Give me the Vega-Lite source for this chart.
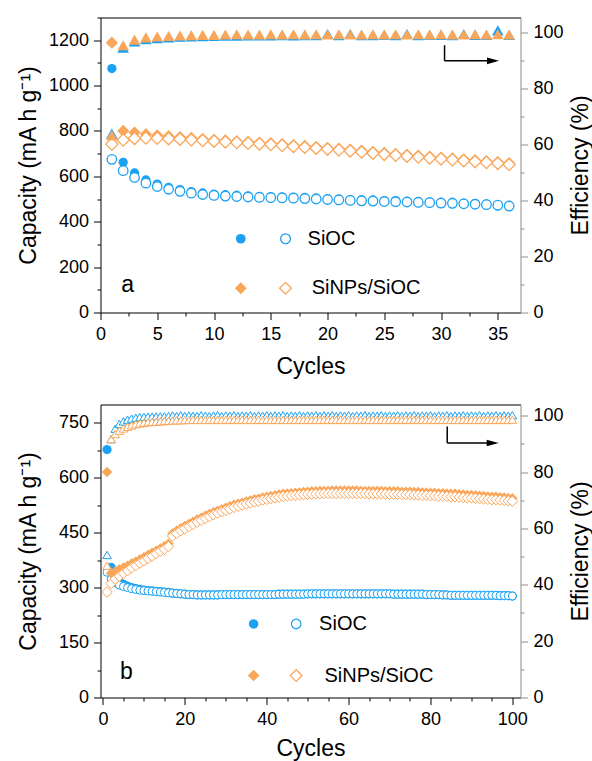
{
  "$schema": "https://vega.github.io/schema/vega-lite/v6.json",
  "padding": {"left": 17.5, "top": 16.5, "right": 0, "bottom": 0},
  "datasets": {
    "a": [
      {"c":1,"sD":1075,"sC":675,"nD":1189,"nC":742,"sE":63.9,"nE":63.3},
      {"c":2,"sD":662,"sC":625,"nD":800,"nC":760,"sE":94.6,"nE":95.5},
      {"c":3,"sD":615,"sC":595,"nD":793,"nC":767,"sE":96.8,"nE":97.5},
      {"c":4,"sD":584,"sC":570,"nD":786,"nC":769,"sE":97.6,"nE":98.3},
      {"c":5,"sD":566,"sC":555,"nD":781,"nC":768,"sE":98.0,"nE":98.6},
      {"c":6,"sD":552,"sC":543,"nD":777,"nC":766,"sE":98.3,"nE":98.8},
      {"c":7,"sD":542,"sC":534,"nD":773,"nC":764,"sE":98.5,"nE":99.0},
      {"c":8,"sD":533,"sC":526,"nD":769,"nC":761,"sE":98.6,"nE":99.1},
      {"c":9,"sD":527,"sC":520,"nD":765,"nC":758,"sE":98.7,"nE":99.2},
      {"c":10,"sD":522,"sC":516,"nD":761,"nC":755,"sE":98.8,"nE":99.2},
      {"c":11,"sD":519,"sC":513,"nD":758,"nC":752,"sE":98.9,"nE":99.3},
      {"c":12,"sD":517,"sC":511,"nD":755,"nC":749,"sE":98.9,"nE":99.4},
      {"c":13,"sD":514,"sC":509,"nD":752,"nC":746,"sE":99.0,"nE":99.3},
      {"c":14,"sD":512,"sC":507,"nD":749,"nC":743,"sE":99.0,"nE":99.3},
      {"c":15,"sD":511,"sC":506,"nD":746,"nC":740,"sE":99.0,"nE":99.4},
      {"c":16,"sD":510,"sC":505,"nD":742,"nC":736,"sE":99.1,"nE":99.3},
      {"c":17,"sD":509,"sC":504,"nD":738,"nC":732,"sE":99.0,"nE":99.4},
      {"c":18,"sD":507,"sC":502,"nD":734,"nC":728,"sE":99.1,"nE":99.3},
      {"c":19,"sD":505,"sC":500,"nD":730,"nC":724,"sE":99.1,"nE":99.4},
      {"c":20,"sD":501,"sC":498,"nD":726,"nC":720,"sE":99.5,"nE":99.3},
      {"c":21,"sD":501,"sC":496,"nD":722,"nC":716,"sE":99.1,"nE":99.4},
      {"c":22,"sD":497,"sC":494,"nD":718,"nC":712,"sE":99.5,"nE":99.3},
      {"c":23,"sD":497,"sC":492,"nD":713,"nC":707,"sE":99.1,"nE":99.3},
      {"c":24,"sD":496,"sC":491,"nD":708,"nC":702,"sE":99.1,"nE":99.4},
      {"c":25,"sD":493,"sC":489,"nD":703,"nC":697,"sE":99.2,"nE":99.3},
      {"c":26,"sD":493,"sC":488,"nD":699,"nC":693,"sE":99.1,"nE":99.4},
      {"c":27,"sD":490,"sC":487,"nD":695,"nC":689,"sE":99.5,"nE":99.3},
      {"c":28,"sD":490,"sC":485,"nD":691,"nC":685,"sE":99.1,"nE":99.4},
      {"c":29,"sD":488,"sC":484,"nD":687,"nC":681,"sE":99.2,"nE":99.3},
      {"c":30,"sD":486,"sC":482,"nD":683,"nC":677,"sE":99.2,"nE":99.4},
      {"c":31,"sD":486,"sC":481,"nD":679,"nC":673,"sE":99.1,"nE":99.3},
      {"c":32,"sD":482,"sC":479,"nD":675,"nC":669,"sE":99.5,"nE":99.3},
      {"c":33,"sD":481,"sC":477,"nD":671,"nC":665,"sE":99.2,"nE":99.4},
      {"c":34,"sD":479,"sC":475,"nD":667,"nC":661,"sE":99.2,"nE":99.3},
      {"c":35,"sD":469,"sC":473,"nD":663,"nC":657,"sE":100.8,"nE":99.4},
      {"c":36,"sD":473,"sC":469,"nD":658,"nC":652,"sE":99.2,"nE":99.3}
    ],
    "b": [
      {"c":1,"sD":677,"sC":342,"nD":616,"nC":288,"sE":50.6,"nE":46.8},
      {"c":2,"sD":355,"sC":323,"nD":339,"nC":311,"sE":91.7,"nE":91.7},
      {"c":3,"sD":328,"sC":313,"nD":345,"nC":323,"sE":95.4,"nE":93.5},
      {"c":4,"sD":316,"sC":307,"nD":350,"nC":331,"sE":97.1,"nE":94.7},
      {"c":5,"sD":309,"sC":303,"nD":355,"nC":339,"sE":98.0,"nE":95.5},
      {"c":6,"sD":304,"sC":300,"nD":360,"nC":346,"sE":98.6,"nE":96.1},
      {"c":7,"sD":300,"sC":297,"nD":366,"nC":354,"sE":99.0,"nE":96.6},
      {"c":8,"sD":297,"sC":295,"nD":371,"nC":360,"sE":99.3,"nE":97.0},
      {"c":9,"sD":295,"sC":293,"nD":377,"nC":367,"sE":99.5,"nE":97.3},
      {"c":10,"sD":293,"sC":292,"nD":383,"nC":373,"sE":99.6,"nE":97.5},
      {"c":11,"sD":292,"sC":291,"nD":389,"nC":380,"sE":99.7,"nE":97.7},
      {"c":12,"sD":291,"sC":290,"nD":395,"nC":386,"sE":99.7,"nE":97.8},
      {"c":13,"sD":290,"sC":289,"nD":401,"nC":393,"sE":99.8,"nE":97.9},
      {"c":14,"sD":289,"sC":288,"nD":407,"nC":399,"sE":99.8,"nE":98.0},
      {"c":15,"sD":288,"sC":287,"nD":413,"nC":405,"sE":99.8,"nE":98.1},
      {"c":16,"sD":287,"sC":286,"nD":420,"nC":412,"sE":99.9,"nE":98.2},
      {"c":17,"sD":285,"sC":285,"nD":448,"nC":441,"sE":100.1,"nE":98.3},
      {"c":18,"sD":284,"sC":284,"nD":455,"nC":448,"sE":99.9,"nE":98.4},
      {"c":19,"sD":283,"sC":283,"nD":462,"nC":455,"sE":100.2,"nE":98.4},
      {"c":20,"sD":282,"sC":282,"nD":468,"nC":461,"sE":99.9,"nE":98.5},
      {"c":21,"sD":281,"sC":281,"nD":474,"nC":467,"sE":100.1,"nE":98.5},
      {"c":22,"sD":281,"sC":281,"nD":480,"nC":473,"sE":100.0,"nE":98.6},
      {"c":23,"sD":280,"sC":280,"nD":486,"nC":479,"sE":99.9,"nE":98.5},
      {"c":24,"sD":280,"sC":280,"nD":491,"nC":484,"sE":100.2,"nE":98.6},
      {"c":25,"sD":280,"sC":280,"nD":496,"nC":489,"sE":100.0,"nE":98.5},
      {"c":26,"sD":280,"sC":280,"nD":501,"nC":494,"sE":99.9,"nE":98.6},
      {"c":27,"sD":280,"sC":280,"nD":506,"nC":499,"sE":100.1,"nE":98.5},
      {"c":28,"sD":280,"sC":280,"nD":510,"nC":503,"sE":100.2,"nE":98.6},
      {"c":29,"sD":281,"sC":281,"nD":514,"nC":507,"sE":99.9,"nE":98.5},
      {"c":30,"sD":281,"sC":281,"nD":518,"nC":511,"sE":100.1,"nE":98.6},
      {"c":31,"sD":281,"sC":281,"nD":522,"nC":515,"sE":100.0,"nE":98.5},
      {"c":32,"sD":281,"sC":281,"nD":526,"nC":519,"sE":100.2,"nE":98.6},
      {"c":33,"sD":281,"sC":281,"nD":529,"nC":522,"sE":99.9,"nE":98.5},
      {"c":34,"sD":281,"sC":281,"nD":532,"nC":525,"sE":100.1,"nE":98.6},
      {"c":35,"sD":281,"sC":281,"nD":535,"nC":528,"sE":100.0,"nE":98.5},
      {"c":36,"sD":281,"sC":281,"nD":538,"nC":531,"sE":100.2,"nE":98.6},
      {"c":37,"sD":281,"sC":281,"nD":541,"nC":534,"sE":99.9,"nE":98.5},
      {"c":38,"sD":281,"sC":281,"nD":543,"nC":536,"sE":100.1,"nE":98.6},
      {"c":39,"sD":281,"sC":281,"nD":546,"nC":539,"sE":100.0,"nE":98.5},
      {"c":40,"sD":281,"sC":281,"nD":548,"nC":541,"sE":100.2,"nE":98.6},
      {"c":41,"sD":281,"sC":281,"nD":550,"nC":543,"sE":99.9,"nE":98.5},
      {"c":42,"sD":281,"sC":281,"nD":552,"nC":545,"sE":100.1,"nE":98.6},
      {"c":43,"sD":282,"sC":282,"nD":554,"nC":547,"sE":100.0,"nE":98.5},
      {"c":44,"sD":282,"sC":282,"nD":556,"nC":549,"sE":100.2,"nE":98.6},
      {"c":45,"sD":282,"sC":282,"nD":557,"nC":550,"sE":99.9,"nE":98.5},
      {"c":46,"sD":282,"sC":282,"nD":558,"nC":551,"sE":100.1,"nE":98.6},
      {"c":47,"sD":282,"sC":282,"nD":559,"nC":552,"sE":100.0,"nE":98.5},
      {"c":48,"sD":282,"sC":282,"nD":560,"nC":553,"sE":100.2,"nE":98.6},
      {"c":49,"sD":282,"sC":282,"nD":561,"nC":554,"sE":99.9,"nE":98.5},
      {"c":50,"sD":283,"sC":283,"nD":562,"nC":555,"sE":100.1,"nE":98.6},
      {"c":51,"sD":283,"sC":283,"nD":563,"nC":555,"sE":100.0,"nE":98.5},
      {"c":52,"sD":283,"sC":283,"nD":563,"nC":556,"sE":100.2,"nE":98.6},
      {"c":53,"sD":283,"sC":283,"nD":564,"nC":556,"sE":99.9,"nE":98.5},
      {"c":54,"sD":283,"sC":283,"nD":564,"nC":557,"sE":100.1,"nE":98.6},
      {"c":55,"sD":283,"sC":283,"nD":564,"nC":557,"sE":100.0,"nE":98.5},
      {"c":56,"sD":283,"sC":283,"nD":565,"nC":557,"sE":100.2,"nE":98.6},
      {"c":57,"sD":283,"sC":283,"nD":565,"nC":557,"sE":99.9,"nE":98.5},
      {"c":58,"sD":283,"sC":283,"nD":565,"nC":557,"sE":100.1,"nE":98.6},
      {"c":59,"sD":283,"sC":283,"nD":565,"nC":557,"sE":100.0,"nE":98.5},
      {"c":60,"sD":283,"sC":283,"nD":565,"nC":557,"sE":100.2,"nE":98.6},
      {"c":61,"sD":283,"sC":283,"nD":565,"nC":557,"sE":99.9,"nE":98.5},
      {"c":62,"sD":283,"sC":283,"nD":565,"nC":557,"sE":100.1,"nE":98.6},
      {"c":63,"sD":283,"sC":283,"nD":564,"nC":557,"sE":100.0,"nE":98.5},
      {"c":64,"sD":283,"sC":283,"nD":564,"nC":557,"sE":100.2,"nE":98.6},
      {"c":65,"sD":283,"sC":283,"nD":564,"nC":556,"sE":99.9,"nE":98.5},
      {"c":66,"sD":283,"sC":283,"nD":564,"nC":556,"sE":100.1,"nE":98.6},
      {"c":67,"sD":283,"sC":283,"nD":564,"nC":556,"sE":100.0,"nE":98.5},
      {"c":68,"sD":283,"sC":283,"nD":564,"nC":556,"sE":100.2,"nE":98.6},
      {"c":69,"sD":283,"sC":283,"nD":563,"nC":556,"sE":99.9,"nE":98.5},
      {"c":70,"sD":283,"sC":283,"nD":563,"nC":555,"sE":100.1,"nE":98.6},
      {"c":71,"sD":282,"sC":282,"nD":563,"nC":555,"sE":100.0,"nE":98.5},
      {"c":72,"sD":282,"sC":282,"nD":563,"nC":555,"sE":100.2,"nE":98.6},
      {"c":73,"sD":282,"sC":282,"nD":562,"nC":554,"sE":99.9,"nE":98.5},
      {"c":74,"sD":282,"sC":282,"nD":562,"nC":554,"sE":100.1,"nE":98.6},
      {"c":75,"sD":282,"sC":282,"nD":562,"nC":554,"sE":100.0,"nE":98.5},
      {"c":76,"sD":282,"sC":282,"nD":561,"nC":553,"sE":100.2,"nE":98.6},
      {"c":77,"sD":282,"sC":282,"nD":561,"nC":553,"sE":99.9,"nE":98.5},
      {"c":78,"sD":282,"sC":282,"nD":560,"nC":552,"sE":100.1,"nE":98.6},
      {"c":79,"sD":281,"sC":281,"nD":560,"nC":552,"sE":100.0,"nE":98.5},
      {"c":80,"sD":281,"sC":281,"nD":559,"nC":551,"sE":100.2,"nE":98.6},
      {"c":81,"sD":281,"sC":281,"nD":559,"nC":551,"sE":99.9,"nE":98.5},
      {"c":82,"sD":281,"sC":281,"nD":558,"nC":550,"sE":100.1,"nE":98.6},
      {"c":83,"sD":280,"sC":280,"nD":558,"nC":550,"sE":100.0,"nE":98.5},
      {"c":84,"sD":280,"sC":280,"nD":557,"nC":549,"sE":100.2,"nE":98.6},
      {"c":85,"sD":279,"sC":279,"nD":556,"nC":548,"sE":99.9,"nE":98.5},
      {"c":86,"sD":279,"sC":279,"nD":556,"nC":548,"sE":100.1,"nE":98.6},
      {"c":87,"sD":279,"sC":279,"nD":555,"nC":547,"sE":100.0,"nE":98.5},
      {"c":88,"sD":279,"sC":279,"nD":554,"nC":546,"sE":100.2,"nE":98.6},
      {"c":89,"sD":279,"sC":279,"nD":553,"nC":545,"sE":99.9,"nE":98.5},
      {"c":90,"sD":279,"sC":279,"nD":553,"nC":545,"sE":100.1,"nE":98.6},
      {"c":91,"sD":279,"sC":279,"nD":552,"nC":544,"sE":100.0,"nE":98.5},
      {"c":92,"sD":279,"sC":279,"nD":551,"nC":543,"sE":100.2,"nE":98.6},
      {"c":93,"sD":279,"sC":279,"nD":550,"nC":542,"sE":99.9,"nE":98.5},
      {"c":94,"sD":279,"sC":279,"nD":549,"nC":541,"sE":100.1,"nE":98.6},
      {"c":95,"sD":279,"sC":279,"nD":548,"nC":540,"sE":100.0,"nE":98.5},
      {"c":96,"sD":279,"sC":279,"nD":548,"nC":540,"sE":100.2,"nE":98.6},
      {"c":97,"sD":278,"sC":278,"nD":547,"nC":539,"sE":99.9,"nE":98.5},
      {"c":98,"sD":278,"sC":278,"nD":546,"nC":538,"sE":100.1,"nE":98.6},
      {"c":99,"sD":278,"sC":278,"nD":545,"nC":537,"sE":100.0,"nE":98.5},
      {"c":100,"sD":277,"sC":277,"nD":544,"nC":536,"sE":100.2,"nE":98.6}
    ]
  },
  "vconcat": [
    {
      "width": 420,
      "height": 295,
      "data": {"name": "a"},
      "layer": [
        {
          "layer": [
            {
              "mark": {"type": "point", "shape": "circle", "filled": true, "color": "#1BA1F2", "size": 85, "opacity": 1},
              "encoding": {
                "x": {"field": "c", "type": "quantitative", "scale": {"domain": [0, 37], "nice": false, "zero": false},
                      "axis": {"orient": "bottom", "values": [0, 5, 10, 15, 20, 25, 30, 35], "title": "Cycles", "titleY": 61, "titleBaseline": "alphabetic", "labelPadding": 6}},
                "y": {"field": "sD", "type": "quantitative", "scale": {"domain": [0, 1300], "nice": false},
                      "axis": {"orient": "left", "values": [0, 200, 400, 600, 800, 1000, 1200], "format": "d", "title": "Capacity (mA h g⁻¹)", "titleX": -72, "titleBaseline": "middle", "titleAngle": 270, "labelPadding": 5}}
              }
            },
            {
              "mark": {"type": "point", "shape": "circle", "filled": true, "fill": "#ffffff", "stroke": "#1BA1F2", "strokeWidth": 1.3, "size": 90, "opacity": 1},
              "encoding": {
                "x": {"field": "c", "type": "quantitative", "scale": {"domain": [0, 37], "nice": false, "zero": false},
                      "axis": {"orient": "bottom", "values": [2.5, 7.5, 12.5, 17.5, 22.5, 27.5, 32.5], "labels": false, "domain": false, "tickSize": 3.5, "title": null}},
                "y": {"field": "sC", "type": "quantitative", "scale": {"domain": [0, 1300], "nice": false},
                      "axis": {"orient": "left", "values": [100, 300, 500, 700, 900, 1100, 1300], "labels": false, "domain": false, "tickSize": 3.5, "title": null}}
              }
            },
            {
              "mark": {"type": "point", "shape": "diamond", "filled": true, "color": "#F9A65A", "size": 150, "opacity": 1},
              "encoding": {
                "x": {"field": "c", "type": "quantitative", "scale": {"domain": [0, 37], "nice": false, "zero": false},
                      "axis": {"orient": "top", "ticks": false, "labels": false, "domain": true, "title": null}},
                "y": {"field": "nD", "type": "quantitative", "scale": {"domain": [0, 1300], "nice": false}, "axis": null}
              }
            },
            {
              "mark": {"type": "point", "shape": "diamond", "filled": true, "fill": "#ffffff", "stroke": "#F9A65A", "strokeWidth": 1.3, "size": 150, "opacity": 1},
              "encoding": {
                "x": {"field": "c", "type": "quantitative", "scale": {"domain": [0, 37], "nice": false, "zero": false}, "axis": null},
                "y": {"field": "nC", "type": "quantitative", "scale": {"domain": [0, 1300], "nice": false}, "axis": null}
              }
            },
            {
              "data": {"values": [{}]},
              "layer": [
                {
                  "mark": {"type": "point", "shape": "circle", "filled": true, "color": "#1BA1F2", "size": 95, "opacity": 1},
                  "encoding": {"x": {"datum": 12.36, "type": "quantitative", "scale": {"domain": [0, 37], "nice": false, "zero": false}, "axis": null},
                               "y": {"datum": 325, "type": "quantitative", "scale": {"domain": [0, 1300], "nice": false}, "axis": null}}
                },
                {
                  "mark": {"type": "point", "shape": "circle", "filled": true, "fill": "#ffffff", "stroke": "#1BA1F2", "strokeWidth": 1.3, "size": 95, "opacity": 1},
                  "encoding": {"x": {"datum": 16.3, "type": "quantitative", "scale": {"domain": [0, 37], "nice": false, "zero": false}, "axis": null},
                               "y": {"datum": 325, "type": "quantitative", "scale": {"domain": [0, 1300], "nice": false}, "axis": null}}
                },
                {
                  "mark": {"type": "text", "text": "SiOC", "align": "left", "baseline": "middle", "fontSize": 20, "font": "Liberation Sans", "color": "#000"},
                  "encoding": {"x": {"datum": 18.24, "type": "quantitative", "scale": {"domain": [0, 37], "nice": false, "zero": false}, "axis": null},
                               "y": {"datum": 325, "type": "quantitative", "scale": {"domain": [0, 1300], "nice": false}, "axis": null}}
                },
                {
                  "mark": {"type": "point", "shape": "diamond", "filled": true, "color": "#F9A65A", "size": 140, "opacity": 1},
                  "encoding": {"x": {"datum": 12.36, "type": "quantitative", "scale": {"domain": [0, 37], "nice": false, "zero": false}, "axis": null},
                               "y": {"datum": 107, "type": "quantitative", "scale": {"domain": [0, 1300], "nice": false}, "axis": null}}
                },
                {
                  "mark": {"type": "point", "shape": "diamond", "filled": true, "fill": "#ffffff", "stroke": "#F9A65A", "strokeWidth": 1.3, "size": 140, "opacity": 1},
                  "encoding": {"x": {"datum": 16.3, "type": "quantitative", "scale": {"domain": [0, 37], "nice": false, "zero": false}, "axis": null},
                               "y": {"datum": 107, "type": "quantitative", "scale": {"domain": [0, 1300], "nice": false}, "axis": null}}
                },
                {
                  "mark": {"type": "text", "text": "SiNPs/SiOC", "align": "left", "baseline": "middle", "fontSize": 20, "font": "Liberation Sans", "color": "#000"},
                  "encoding": {"x": {"datum": 18.6, "type": "quantitative", "scale": {"domain": [0, 37], "nice": false, "zero": false}, "axis": null},
                               "y": {"datum": 107, "type": "quantitative", "scale": {"domain": [0, 1300], "nice": false}, "axis": null}}
                },
                {
                  "mark": {"type": "text", "text": "a", "align": "center", "baseline": "middle", "fontSize": 23, "font": "Liberation Sans", "color": "#000"},
                  "encoding": {"x": {"datum": 2.4, "type": "quantitative", "scale": {"domain": [0, 37], "nice": false, "zero": false}, "axis": null},
                               "y": {"datum": 120, "type": "quantitative", "scale": {"domain": [0, 1300], "nice": false}, "axis": null}}
                },
                {
                  "mark": {"type": "rule", "color": "#000", "strokeWidth": 1.5},
                  "encoding": {"x": {"datum": 30.31, "type": "quantitative", "scale": {"domain": [0, 37], "nice": false, "zero": false}, "axis": null},
                               "y": {"datum": 1178, "type": "quantitative", "scale": {"domain": [0, 1300], "nice": false}, "axis": null},
                               "y2": {"datum": 1109}}
                },
                {
                  "mark": {"type": "rule", "color": "#000", "strokeWidth": 1.5},
                  "encoding": {"x": {"datum": 30.31, "type": "quantitative", "scale": {"domain": [0, 37], "nice": false, "zero": false}, "axis": null},
                               "x2": {"datum": 34.3},
                               "y": {"datum": 1109, "type": "quantitative", "scale": {"domain": [0, 1300], "nice": false}, "axis": null}}
                },
                {
                  "mark": {"type": "point", "shape": "M-1,-0.55L1,0L-1,0.55Z", "filled": true, "color": "#000", "size": 144, "opacity": 1},
                  "encoding": {"x": {"datum": 34.58, "type": "quantitative", "scale": {"domain": [0, 37], "nice": false, "zero": false}, "axis": null},
                               "y": {"datum": 1109, "type": "quantitative", "scale": {"domain": [0, 1300], "nice": false}, "axis": null}}
                }
              ],
              "resolve": {"axis": {"x": "independent", "y": "independent"}}
            }
          ],
          "resolve": {"axis": {"x": "independent", "y": "independent"}}
        },
        {
          "layer": [
            {
              "mark": {"type": "point", "shape": "triangle-up", "filled": true, "color": "#1BA1F2", "size": 135, "opacity": 1},
              "encoding": {
                "x": {"field": "c", "type": "quantitative", "scale": {"domain": [0, 37], "nice": false, "zero": false}, "axis": null},
                "y": {"field": "sE", "type": "quantitative", "scale": {"domain": [0, 105.4], "nice": false},
                      "axis": {"orient": "right", "values": [0, 20, 40, 60, 80, 100], "title": "Efficiency (%)", "titleX": 60, "titleBaseline": "middle", "titleAngle": 270, "labelPadding": 5.5, "domainColor": "#8C8C8C", "tickColor": "#8C8C8C"}}
              }
            },
            {
              "mark": {"type": "point", "shape": "triangle-up", "filled": true, "color": "#F9A65A", "size": 135, "opacity": 1},
              "encoding": {
                "x": {"field": "c", "type": "quantitative", "scale": {"domain": [0, 37], "nice": false, "zero": false}, "axis": null},
                "y": {"field": "nE", "type": "quantitative", "scale": {"domain": [0, 105.4], "nice": false},
                      "axis": {"orient": "right", "values": [10, 30, 50, 70, 90], "labels": false, "domain": false, "tickSize": 3.5, "title": null, "tickColor": "#8C8C8C"}}
              }
            }
          ],
          "resolve": {"axis": {"x": "independent", "y": "independent"}}
        }
      ],
      "resolve": {"scale": {"y": "independent"}, "axis": {"x": "independent", "y": "independent"}}
    },
    {
      "width": 420,
      "height": 293,
      "data": {"name": "b"},
      "layer": [
        {
          "layer": [
            {
              "mark": {"type": "point", "shape": "circle", "filled": true, "color": "#1BA1F2", "size": 85, "opacity": 1},
              "encoding": {
                "x": {"field": "c", "type": "quantitative", "scale": {"domain": [-0.6, 102], "nice": false, "zero": false},
                      "axis": {"orient": "bottom", "values": [0, 20, 40, 60, 80, 100], "title": "Cycles", "titleY": 58, "titleBaseline": "alphabetic", "labelPadding": 6}},
                "y": {"field": "sD", "type": "quantitative", "scale": {"domain": [0, 800], "nice": false},
                      "axis": {"orient": "left", "values": [0, 150, 300, 450, 600, 750], "format": "d", "title": "Capacity (mA h g⁻¹)", "titleX": -72, "titleBaseline": "middle", "titleAngle": 270, "labelPadding": 5}}
              }
            },
            {
              "mark": {"type": "point", "shape": "circle", "filled": true, "fill": "#ffffff", "stroke": "#1BA1F2", "strokeWidth": 1, "size": 64, "opacity": 1},
              "encoding": {
                "x": {"field": "c", "type": "quantitative", "scale": {"domain": [-0.6, 102], "nice": false, "zero": false},
                      "axis": {"orient": "bottom", "values": [5, 10, 15, 25, 30, 35, 45, 50, 55, 65, 70, 75, 85, 90, 95], "labels": false, "domain": false, "tickSize": 3.5, "title": null}},
                "y": {"field": "sC", "type": "quantitative", "scale": {"domain": [0, 800], "nice": false},
                      "axis": {"orient": "left", "values": [75, 225, 375, 525, 675], "labels": false, "domain": false, "tickSize": 3.5, "title": null}}
              }
            },
            {
              "mark": {"type": "point", "shape": "diamond", "filled": true, "color": "#F9A65A", "size": 110, "opacity": 1},
              "encoding": {
                "x": {"field": "c", "type": "quantitative", "scale": {"domain": [-0.6, 102], "nice": false, "zero": false},
                      "axis": {"orient": "top", "ticks": false, "labels": false, "domain": true, "title": null}},
                "y": {"field": "nD", "type": "quantitative", "scale": {"domain": [0, 800], "nice": false}, "axis": null}
              }
            },
            {
              "mark": {"type": "point", "shape": "diamond", "filled": true, "fill": "#ffffff", "stroke": "#F9A65A", "strokeWidth": 1, "size": 110, "opacity": 1},
              "encoding": {
                "x": {"field": "c", "type": "quantitative", "scale": {"domain": [-0.6, 102], "nice": false, "zero": false}, "axis": null},
                "y": {"field": "nC", "type": "quantitative", "scale": {"domain": [0, 800], "nice": false}, "axis": null}
              }
            },
            {
              "data": {"values": [{}]},
              "layer": [
                {
                  "mark": {"type": "point", "shape": "circle", "filled": true, "color": "#1BA1F2", "size": 90, "opacity": 1},
                  "encoding": {"x": {"datum": 36.8, "type": "quantitative", "scale": {"domain": [-0.6, 102], "nice": false, "zero": false}, "axis": null},
                               "y": {"datum": 201, "type": "quantitative", "scale": {"domain": [0, 800], "nice": false}, "axis": null}}
                },
                {
                  "mark": {"type": "point", "shape": "circle", "filled": true, "fill": "#ffffff", "stroke": "#1BA1F2", "strokeWidth": 1.2, "size": 90, "opacity": 1},
                  "encoding": {"x": {"datum": 47.2, "type": "quantitative", "scale": {"domain": [-0.6, 102], "nice": false, "zero": false}, "axis": null},
                               "y": {"datum": 201, "type": "quantitative", "scale": {"domain": [0, 800], "nice": false}, "axis": null}}
                },
                {
                  "mark": {"type": "text", "text": "SiOC", "align": "left", "baseline": "middle", "fontSize": 20, "font": "Liberation Sans", "color": "#000"},
                  "encoding": {"x": {"datum": 52.8, "type": "quantitative", "scale": {"domain": [-0.6, 102], "nice": false, "zero": false}, "axis": null},
                               "y": {"datum": 201, "type": "quantitative", "scale": {"domain": [0, 800], "nice": false}, "axis": null}}
                },
                {
                  "mark": {"type": "point", "shape": "diamond", "filled": true, "color": "#F9A65A", "size": 135, "opacity": 1},
                  "encoding": {"x": {"datum": 36.8, "type": "quantitative", "scale": {"domain": [-0.6, 102], "nice": false, "zero": false}, "axis": null},
                               "y": {"datum": 60, "type": "quantitative", "scale": {"domain": [0, 800], "nice": false}, "axis": null}}
                },
                {
                  "mark": {"type": "point", "shape": "diamond", "filled": true, "fill": "#ffffff", "stroke": "#F9A65A", "strokeWidth": 1.2, "size": 135, "opacity": 1},
                  "encoding": {"x": {"datum": 47.2, "type": "quantitative", "scale": {"domain": [-0.6, 102], "nice": false, "zero": false}, "axis": null},
                               "y": {"datum": 60, "type": "quantitative", "scale": {"domain": [0, 800], "nice": false}, "axis": null}}
                },
                {
                  "mark": {"type": "text", "text": "SiNPs/SiOC", "align": "left", "baseline": "middle", "fontSize": 20, "font": "Liberation Sans", "color": "#000"},
                  "encoding": {"x": {"datum": 54.1, "type": "quantitative", "scale": {"domain": [-0.6, 102], "nice": false, "zero": false}, "axis": null},
                               "y": {"datum": 60, "type": "quantitative", "scale": {"domain": [0, 800], "nice": false}, "axis": null}}
                },
                {
                  "mark": {"type": "text", "text": "b", "align": "center", "baseline": "middle", "fontSize": 23, "font": "Liberation Sans", "color": "#000"},
                  "encoding": {"x": {"datum": 5.75, "type": "quantitative", "scale": {"domain": [-0.6, 102], "nice": false, "zero": false}, "axis": null},
                               "y": {"datum": 69, "type": "quantitative", "scale": {"domain": [0, 800], "nice": false}, "axis": null}}
                },
                {
                  "mark": {"type": "rule", "color": "#000", "strokeWidth": 1.5},
                  "encoding": {"x": {"datum": 84.1, "type": "quantitative", "scale": {"domain": [-0.6, 102], "nice": false, "zero": false}, "axis": null},
                               "y": {"datum": 740, "type": "quantitative", "scale": {"domain": [0, 800], "nice": false}, "axis": null},
                               "y2": {"datum": 695}}
                },
                {
                  "mark": {"type": "rule", "color": "#000", "strokeWidth": 1.5},
                  "encoding": {"x": {"datum": 84.1, "type": "quantitative", "scale": {"domain": [-0.6, 102], "nice": false, "zero": false}, "axis": null},
                               "x2": {"datum": 94.0},
                               "y": {"datum": 695, "type": "quantitative", "scale": {"domain": [0, 800], "nice": false}, "axis": null}}
                },
                {
                  "mark": {"type": "point", "shape": "M-1,-0.55L1,0L-1,0.55Z", "filled": true, "color": "#000", "size": 144, "opacity": 1},
                  "encoding": {"x": {"datum": 95.2, "type": "quantitative", "scale": {"domain": [-0.6, 102], "nice": false, "zero": false}, "axis": null},
                               "y": {"datum": 695, "type": "quantitative", "scale": {"domain": [0, 800], "nice": false}, "axis": null}}
                }
              ],
              "resolve": {"axis": {"x": "independent", "y": "independent"}}
            }
          ],
          "resolve": {"axis": {"x": "independent", "y": "independent"}}
        },
        {
          "layer": [
            {
              "mark": {"type": "point", "shape": "triangle-up", "filled": true, "fill": "#ffffff", "stroke": "#1BA1F2", "strokeWidth": 1, "size": 72, "opacity": 1},
              "encoding": {
                "x": {"field": "c", "type": "quantitative", "scale": {"domain": [-0.6, 102], "nice": false, "zero": false}, "axis": null},
                "y": {"field": "sE", "type": "quantitative", "scale": {"domain": [0, 104], "nice": false},
                      "axis": {"orient": "right", "values": [0, 20, 40, 60, 80, 100], "title": "Efficiency (%)", "titleX": 60, "titleBaseline": "middle", "titleAngle": 270, "labelPadding": 5.5, "domainColor": "#8C8C8C", "tickColor": "#8C8C8C"}}
              }
            },
            {
              "mark": {"type": "point", "shape": "triangle-up", "filled": true, "fill": "#ffffff", "stroke": "#F9A65A", "strokeWidth": 1, "size": 72, "opacity": 1},
              "encoding": {
                "x": {"field": "c", "type": "quantitative", "scale": {"domain": [-0.6, 102], "nice": false, "zero": false}, "axis": null},
                "y": {"field": "nE", "type": "quantitative", "scale": {"domain": [0, 104], "nice": false},
                      "axis": {"orient": "right", "values": [10, 30, 50, 70, 90], "labels": false, "domain": false, "tickSize": 3.5, "title": null, "tickColor": "#8C8C8C"}}
              }
            }
          ],
          "resolve": {"axis": {"x": "independent", "y": "independent"}}
        }
      ],
      "resolve": {"scale": {"y": "independent"}, "axis": {"x": "independent", "y": "independent"}}
    }
  ],
  "spacing": 26,
  "config": {
    "view": {"stroke": null},
    "axis": {
      "grid": false,
      "labelFont": "Liberation Sans",
      "labelFontSize": 18,
      "labelColor": "#000",
      "labelFlush": false,
      "labelOverlap": false,
      "titleFont": "Liberation Sans",
      "titleFontSize": 23,
      "titleFontWeight": "normal",
      "titleColor": "#000",
      "domainColor": "#000",
      "tickColor": "#000",
      "tickSize": 7,
      "domainWidth": 1,
      "tickWidth": 1
    }
  }
}
